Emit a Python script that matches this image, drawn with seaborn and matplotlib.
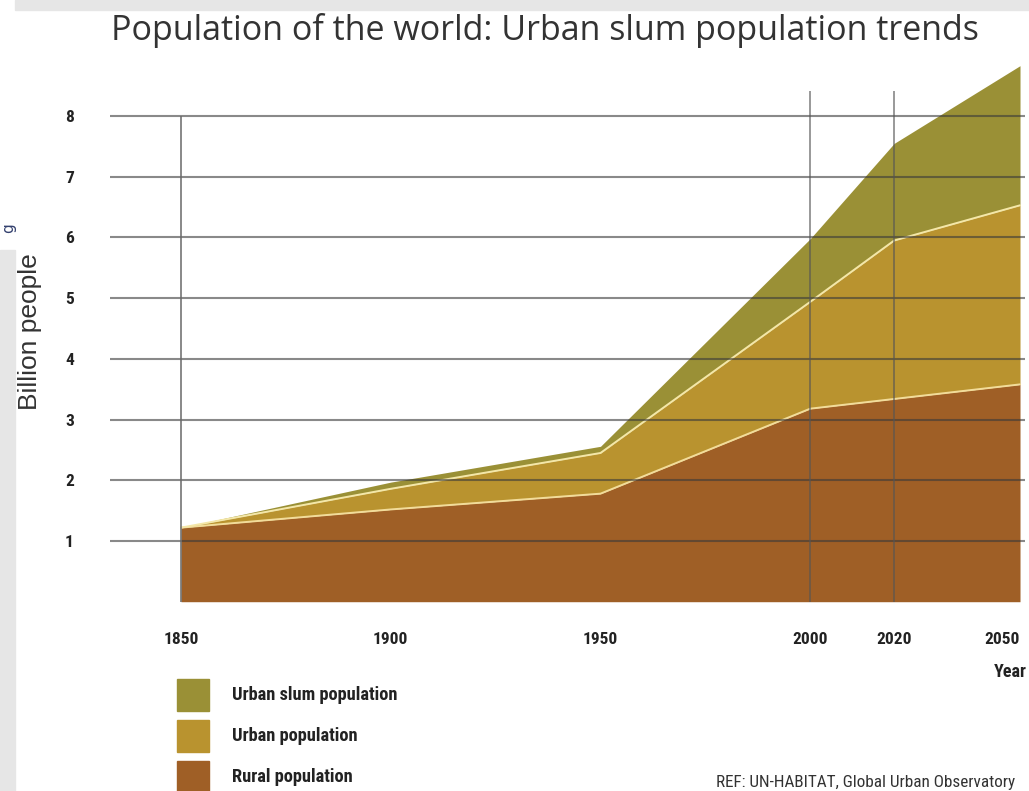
import os
import numpy as np
import pandas as pd
import matplotlib
matplotlib.use('Agg')
import matplotlib.pyplot as plt
import seaborn as sns
from matplotlib.patches import Rectangle
from matplotlib import font_manager
from matplotlib.font_manager import FontProperties


"""
Data, read off the UN-HABITAT chart (billion people)
"""
years = [1850, 1900, 1950, 2000, 2020, 2050]
rural = [1.22, 1.52, 1.78, 3.18, 3.34, 3.58]
urban = [0.00, 0.34, 0.67, 1.76, 2.61, 2.95]
slum = [0.00, 0.11, 0.11, 1.04, 1.60, 2.30]
tick_years = [1850, 1900, 1950, 2000, 2020, 2050]
y_ticks = [1, 2, 3, 4, 5, 6, 7, 8]
legend_labels = ['Urban slum population', 'Urban population', 'Rural population']
COLOR_SLUM = '#9a9036'
COLOR_URBAN = '#b9932f'
COLOR_RURAL = '#9f5f26'


"""
Fonts: the chart uses a narrow Helvetica, look for any condensed face
"""
sns.set_theme(style='white')
plt.rcParams['font.family'] = ['Liberation Sans', 'DejaVu Sans']

PREFS = ['liberationsansnarrow', 'arialnarrow', 'robotocondensed',
         'dejavusanscondensed', 'notosanscondensed', 'opensanscondensed']
SKIP = ['italic', 'oblique', 'semibold', 'extrabold', 'light', 'medium',
        'black', 'thin', 'semicondensed', 'extracondensed', 'mono', 'serif']


def find_condensed(bold):
    cands = []
    for f in font_manager.fontManager.ttflist:
        base = os.path.basename(f.fname).lower()
        base = base.replace('_', '').replace(' ', '').replace('-', '')
        if 'narrow' not in base and 'condensed' not in base:
            continue
        if any(s in base for s in SKIP):
            continue
        if ('bold' in base) != bold:
            continue
        rank = next((i for i, p in enumerate(PREFS) if p in base), len(PREFS))
        cands.append((rank, f.fname))
    return sorted(cands)[0][1] if cands else None


reg_path, bold_path = find_condensed(False), find_condensed(True)
if reg_path and bold_path:
    SCALE = 1.0
    def narrow(size, bold=False):
        return FontProperties(fname=bold_path if bold else reg_path, size=size)
else:
    SCALE = 0.82
    def narrow(size, bold=False):
        return FontProperties(family='Liberation Sans', size=size * SCALE,
                              weight='bold' if bold else 'normal')

df = pd.DataFrame({'year': years, 'rural': rural, 'urban': urban,
                   'slum': slum})
df['rural_top'] = df.rural
df['urban_top'] = df.rural + df.urban
df['slum_top'] = df.urban_top + df.slum


"""
Plot
"""
fig = plt.figure(figsize=(10.29, 7.91), dpi=100)
fig.patch.set_facecolor('white')
# grey screenshot frame
fig.patches.append(Rectangle((15 / 1029, 1 - 10 / 791), 1, 10 / 791,
                             transform=fig.transFigure, color='#e6e6e6',
                             zorder=-5))
fig.patches.append(Rectangle((0, 0), 15 / 1029, (791 - 250) / 791,
                             transform=fig.transFigure, color='#e6e6e6',
                             zorder=-5))
fig.text(1 / 1029, 1 - 228 / 791, 'g', color='#33406e', fontsize=11,
         rotation=90, ha='left', va='center', family='DejaVu Sans')

ax = fig.add_axes([110 / 1029, 0.2393, 915 / 1029, 0.6848])
ax.stackplot(df.year, df.rural, df.urban, df.slum,
             colors=[COLOR_RURAL, COLOR_URBAN, COLOR_SLUM], lw=0, zorder=1)
sns.lineplot(x=df.year, y=df.rural_top, color='#f2dc9a', lw=1.4, ax=ax,
             zorder=2)
sns.lineplot(x=df.year, y=df.urban_top, color='#f4e7a8', lw=1.4, ax=ax,
             zorder=2)
ax.vlines([1850], 0, 8, color='#6a6a6a', lw=1.4, alpha=0.8, zorder=3)
ax.vlines([2000, 2020], 0, 8.42, color='#555555', lw=1.2, alpha=0.7,
          zorder=3)

ax.set_xlim(1833.08, 2051.19)
ax.set_ylim(0, 8.923)
ax.set_yticks(y_ticks, labels=[str(v) for v in y_ticks],
              fontproperties=narrow(12.5, bold=True))
ax.set_xticks(tick_years, labels=[str(v) for v in tick_years],
              fontproperties=narrow(12.5, bold=True))
ax.set_axisbelow(False)
ax.yaxis.grid(True, color='#3a3a3a', alpha=0.6, lw=1.5)
ax.xaxis.grid(False)
for s in ax.spines.values():
    s.set_visible(False)
ax.tick_params(axis='y', length=0, pad=26, labelcolor='#222')
ax.tick_params(axis='x', length=0, pad=22, labelcolor='#222')
ax.get_xticklabels()[-1].set_horizontalalignment('right')
ax.set_xlabel('')
ax.set_ylabel('')

fig.text(0.53, 1 - 30 / 791,
         'Population of the world: Urban slum population trends',
         ha='center', va='center', fontsize=24.5, color='#333333',
         family='Open Sans')
fig.text(30 / 1029, 1 - 332 / 791, 'Billion people', rotation=90,
         ha='center', va='center', fontsize=19, color='#333333',
         family='Liberation Sans')
fig.text(1027 / 1029, 1 - 672 / 791, 'Year', ha='right', va='center',
         fontproperties=narrow(13, bold=True), color='#222')

# legend
for i, (lab, col) in enumerate(zip(legend_labels,
                                   [COLOR_SLUM, COLOR_URBAN, COLOR_RURAL])):
    top = 679 + 41 * i
    fig.patches.append(Rectangle((177 / 1029, 1 - (top + 32) / 791),
                                 32 / 1029, 32 / 791,
                                 transform=fig.transFigure, color=col))
    fig.text(232 / 1029, 1 - (top + 16) / 791, lab, ha='left', va='center',
             fontproperties=narrow(13.2, bold=True), color='#222')

fig.text(1015 / 1029, 1 - 782 / 791,
         'REF: UN-HABITAT, Global Urban Observatory', ha='right',
         va='center', fontproperties=narrow(12.3), color='#333333')

fig.savefig('out.png', dpi=100)
